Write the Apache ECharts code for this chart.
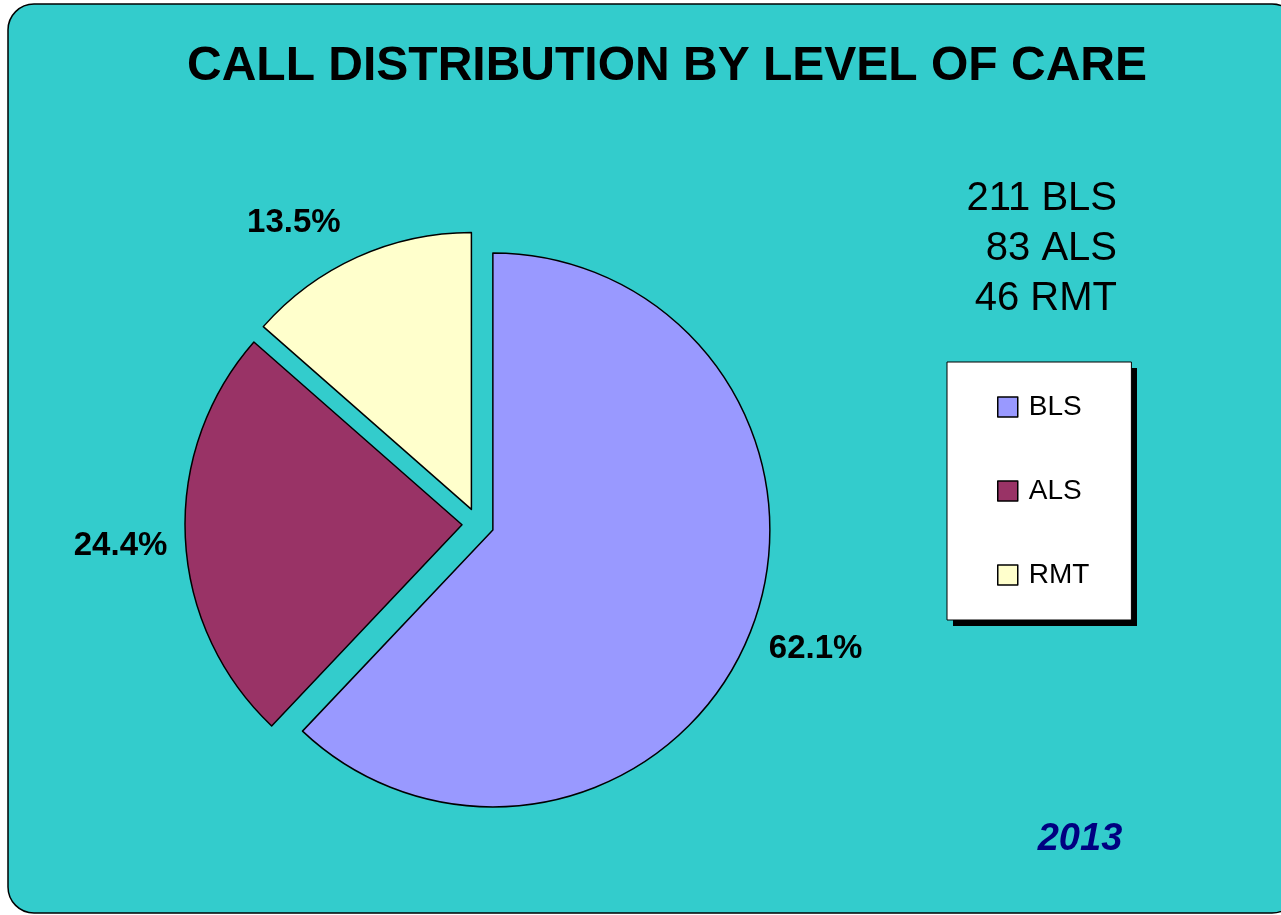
<!DOCTYPE html>
<html>
<head>
<meta charset="utf-8">
<script src="https://cdn.jsdelivr.net/npm/echarts@6/dist/echarts.min.js"></script>
<style>
  html, body { margin: 0; padding: 0; background: #ffffff; }
  #chart { width: 1281px; height: 915px; }
</style>
</head>
<body>
<div id="chart"></div>
<script>
var categories = ["BLS", "ALS", "RMT"];
var callCounts = [211, 83, 46];
var sliceColors = ["#9999FF", "#993366", "#FFFFCC"];
var labelLineLengths = [20, 18, 40];
var labelShiftY = [9, 8, 2];
var chartTitle = "CALL DISTRIBUTION BY LEVEL OF CARE";
var yearLabel = "2013";

var chart = echarts.init(document.getElementById("chart"));

var pieData = categories.map(function (name, i) {
    return {
        name: name,
        value: callCounts[i],
        selected: true,
        itemStyle: { color: sliceColors[i] },
        labelLine: { show: false, length: labelLineLengths[i], length2: 0 }
    };
});

// lines like "211 BLS"
var countsText = categories.map(function (name, i) {
    return callCounts[i] + " " + name;
}).join("\n");

var option = {
    animation: false,
    backgroundColor: "#ffffff",
    title: [{
        text: chartTitle,
        left: 662,
        top: 38,
        textAlign: "center",
        textStyle: { fontFamily: "Liberation Sans, Arial", fontSize: 48, fontWeight: "bold", color: "#000000" }
    }, {
        text: yearLabel,
        left: 1075,
        top: 816,
        textAlign: "center",
        textStyle: { fontFamily: "Liberation Sans, Arial", fontSize: 38, fontWeight: "bold", fontStyle: "italic", color: "#000080" }
    }],
    legend: {
        orient: "vertical",
        left: 947,
        top: 362,
        data: categories,
        backgroundColor: "#ffffff",
        borderColor: "#000000",
        borderWidth: 1,
        padding: [31, 42, 31, 50],
        itemGap: 56,
        itemWidth: 20,
        itemHeight: 20,
        icon: "rect",
        selectedMode: false,
        itemStyle: { borderColor: "#000000", borderWidth: 1.5 },
        textStyle: { fontFamily: "Liberation Sans, Arial", fontSize: 28, lineHeight: 28, color: "#000000", padding: [0, 0, 0, 6] }
    },
    graphic: [{
        type: "rect",
        z: -10,
        silent: true,
        shape: { x: 8, y: 4, width: 1290, height: 909, r: 26 },
        style: { fill: "#33CCCC", stroke: "#000000", lineWidth: 1.5 }
    }, {
        // legend box shadow
        type: "rect",
        z: -5,
        silent: true,
        shape: { x: 953, y: 368, width: 184, height: 258 },
        style: { fill: "#000000" }
    }, {
        type: "text",
        silent: true,
        x: 1117,
        y: 174,
        style: {
            text: countsText,
            align: "right",
            verticalAlign: "top",
            lineHeight: 50,
            font: "40px 'Liberation Sans', Arial",
            fill: "#000000"
        }
    }],
    series: [{
        type: "pie",
        center: [478, 524],
        radius: 277,
        startAngle: 90,
        clockwise: true,
        selectedMode: "multiple",
        selectedOffset: 16,
        percentPrecision: 1,
        avoidLabelOverlap: false,
        emphasis: { disabled: true },
        itemStyle: { borderColor: "#000000", borderWidth: 1.5 },
        label: {
            show: true,
            position: "outside",
            formatter: "{d}%",
            distanceToLabelLine: 0,
            fontFamily: "Liberation Sans, Arial",
            fontSize: 33,
            fontWeight: "bold",
            color: "#000000"
        },
        labelLine: { show: false, length: 20, length2: 0 },
        // nudge labels down a bit, Excel puts them slightly lower
        labelLayout: function (params) {
            return { dy: labelShiftY[params.dataIndex] };
        },
        data: pieData
    }]
};

chart.setOption(option);

window.addEventListener("resize", function () {
    chart.resize();
});
</script>
</body>
</html>
